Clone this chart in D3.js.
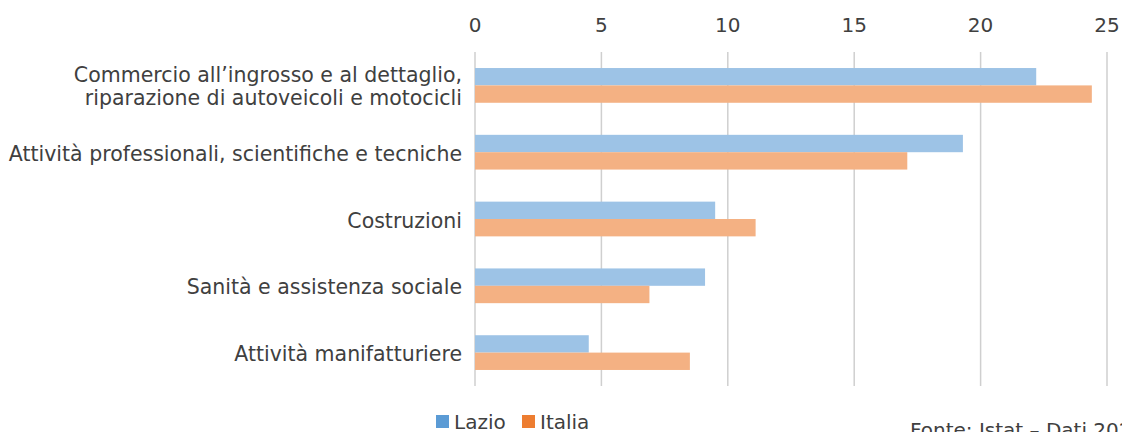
<!DOCTYPE html>
<html>
<head>
<meta charset="utf-8">
<script src="https://cdn.jsdelivr.net/npm/d3@7"></script>
<style>
  body { margin: 0; background: #fff; }
  svg { display: block; }
  text { font-family: "DejaVu Sans", sans-serif; fill: #404040; }
</style>
</head>
<body>
<svg id="chart" width="1122" height="432"></svg>
<script>
// categories, top to bottom; label lines split where the original wraps
var categories = [
  ["Commercio all\u2019ingrosso e al dettaglio,", "riparazione di autoveicoli e motocicli"],
  ["Attivit\u00e0 professionali, scientifiche e tecniche"],
  ["Costruzioni"],
  ["Sanit\u00e0 e assistenza sociale"],
  ["Attivit\u00e0 manifatturiere"]
];
var series = ["Lazio", "Italia"];
var lazio = [22.2, 19.3, 9.5, 9.1, 4.5];
var italia = [24.4, 17.1, 11.1, 6.9, 8.5];
var tickValues = [0, 5, 10, 15, 20, 25];

var barColor = { Lazio: "#9dc3e6", Italia: "#f4b183" };
var legendColor = { Lazio: "#5b9bd5", Italia: "#ed7d31" };

var svg = d3.select("#chart");

var x = d3.scaleLinear().domain([0, 25]).range([475, 1107]);
var y = d3.scaleBand()
    .domain(d3.range(categories.length))
    .range([52, 386])
    .paddingInner(0.48)
    .paddingOuter(0.24);
var ys = d3.scaleBand().domain(series).range([0, y.bandwidth()]);

// gridlines
svg.append("g")
  .selectAll("line")
  .data(tickValues)
  .enter().append("line")
    .attr("x1", function(d) { return x(d); })
    .attr("x2", function(d) { return x(d); })
    .attr("y1", 52)
    .attr("y2", 386)
    .style("stroke", "#cfcfcf")
    .style("stroke-width", 1.5);

// tick labels on top
svg.append("g")
  .selectAll("text")
  .data(tickValues)
  .enter().append("text")
    .attr("x", function(d) { return x(d); })
    .attr("y", 32)
    .attr("text-anchor", "middle")
    .style("font-size", "20px")
    .text(function(d) { return d; });

// bars
var rows = categories.map(function(c, i) {
  return { i: i, values: [{ s: "Lazio", v: lazio[i] }, { s: "Italia", v: italia[i] }] };
});

var group = svg.append("g")
  .selectAll(".row")
  .data(rows)
  .enter().append("g")
    .attr("class", "row")
    .attr("transform", function(d) { return "translate(0," + y(d.i) + ")"; });

group.selectAll("rect")
  .data(function(d) { return d.values; })
  .enter().append("rect")
    .attr("x", x(0))
    .attr("y", function(d) { return ys(d.s); })
    .attr("width", function(d) { return x(d.v) - x(0); })
    .attr("height", ys.bandwidth())
    .style("fill", function(d) { return barColor[d.s]; });

// category labels
svg.append("g")
  .selectAll("text")
  .data(categories)
  .enter().append("text")
    .attr("text-anchor", "end")
    .style("font-size", "20.5px")
    .each(function(lines, i) {
      var cy = y(i) + y.bandwidth() / 2;
      var lh = 23;
      var y0 = cy + 8.5 - (lines.length - 1) * lh / 2;
      d3.select(this).selectAll("tspan")
        .data(lines)
        .enter().append("tspan")
          .attr("x", 462)
          .attr("y", function(l, k) { return y0 + k * lh; })
          .text(function(l) { return l; });
    });

// legend
var legend = svg.append("g").selectAll("g")
  .data(series)
  .enter().append("g")
    .attr("transform", function(d, i) { return "translate(" + (436 + i * 86) + ",415)"; });
legend.append("rect")
  .attr("width", 13)
  .attr("height", 13)
  .style("fill", function(d) { return legendColor[d]; });
legend.append("text")
  .attr("x", 18)
  .attr("y", 13.5)
  .style("font-size", "20px")
  .text(function(d) { return d; });

// source note, low in the frame like the original
svg.append("text")
  .attr("x", 910)
  .attr("y", 437)
  .style("font-size", "20px")
  .text("Fonte: Istat \u2013 Dati 2021");
</script>
</body>
</html>
